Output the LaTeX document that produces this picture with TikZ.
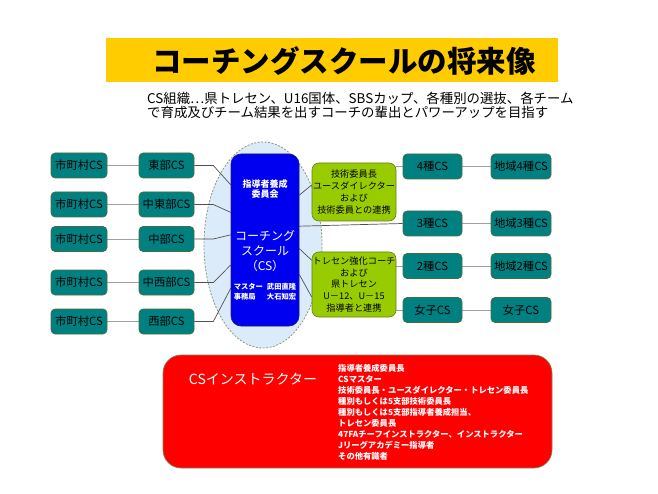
\documentclass[tikz,border=0pt]{standalone}
\usepackage{fontspec}
\setmainfont{Noto Sans CJK JP}
\usetikzlibrary{calc,backgrounds}
\definecolor{titleyellow}{HTML}{FFCC00}
\definecolor{tealfill}{HTML}{008080}
\definecolor{tealborder}{HTML}{4A6E3A}
\definecolor{greenfill}{HTML}{99CC00}
\definecolor{greenborder}{HTML}{5E7F1C}
\definecolor{bluefill}{HTML}{0000F0}
\definecolor{blueborder}{HTML}{1A1A70}
\definecolor{redfill}{HTML}{FF0000}
\definecolor{redborder}{HTML}{7A8A5A}
\definecolor{ellfill}{HTML}{DCEBFA}
\definecolor{ellborder}{HTML}{8A9A7A}
\definecolor{lightline}{HTML}{A0A0A0}
\definecolor{darkline}{HTML}{505050}
\begin{document}
\begin{tikzpicture}[x=1pt,y=-1pt,
  tealbox/.style={draw=tealborder, fill=tealfill, rounded corners=4pt, line width=0.6pt,
    minimum height=25pt, inner sep=0pt, text=black, font=\fontsize{11.3}{12}\selectfont},
  greenbox/.style={draw=greenborder, fill=greenfill, rounded corners=7pt, line width=0.6pt,
    minimum width=84pt, inner sep=0pt, align=center, text=black},
  lightconn/.style={draw=lightline, line width=0.9pt},
  darkconn/.style={draw=darkline, line width=0.7pt},
  whitetext/.style={text=white, inner sep=0pt, align=center}]
\useasboundingbox (0,0) rectangle (658,494);

% title
\node[fill=titleyellow, minimum width=452pt, minimum height=44pt, inner sep=0pt] (titlebar) at (332,60) {};
\node[inner sep=0pt, font=\bfseries\fontsize{29.5}{31}\selectfont] (title) at (344,61) {コーチングスクールの将来像};
\node[anchor=west, align=left, inner sep=0pt, font=\fontsize{13.4}{14.5}\selectfont] (sub) at (147,105.5)
  {CS組織…県トレセン、U16国体、SBSカップ、各種別の選抜、各チーム\\で育成及びチーム結果を出すコーチの輩出とパワーアップを目指す};

% left columns
\node[tealbox, minimum width=56pt] (m1) at (79,165.5) {市町村CS};
\node[tealbox, minimum width=56pt] (m2) at (79,204.5) {市町村CS};
\node[tealbox, minimum width=56pt] (m3) at (79,239) {市町村CS};
\node[tealbox, minimum width=56pt] (m4) at (79,282.5) {市町村CS};
\node[tealbox, minimum width=56pt] (m5) at (79,321.5) {市町村CS};
\node[tealbox, minimum width=55pt] (r1) at (166.5,165.5) {東部CS};
\node[tealbox, minimum width=55pt] (r2) at (166.5,204.5) {中東部CS};
\node[tealbox, minimum width=55pt] (r3) at (166.5,239) {中部CS};
\node[tealbox, minimum width=55pt] (r4) at (166.5,282.5) {中西部CS};
\node[tealbox, minimum width=55pt] (r5) at (166.5,321.5) {西部CS};

% central block
\node[draw=blueborder, fill=bluefill, rounded corners=10pt, line width=0.6pt,
  minimum width=68pt, minimum height=172pt, inner sep=0pt] (cs) at (265,240) {};
\node[whitetext, font=\bfseries\fontsize{9}{10.5}\selectfont] (csa) at (265,189) {指導者養成\\委員会};
\node[whitetext, font=\fontsize{12}{15}\selectfont] (csb) at (265,251) {コーチング\\スクール\\（CS）};
\node[whitetext, font=\bfseries\fontsize{7.3}{10}\selectfont] (csc) at (265,292.5)
  {\begin{tabular}{@{}l@{\hspace{4pt}}l@{}}マスター & 武田直隆\\ 事務局 & 大石知宏\end{tabular}};

% green boxes
\node[greenbox, minimum height=58pt, font=\fontsize{9.2}{12.3}\selectfont] (ga) at (354,192)
  {技術委員長\\ユースダイレクター\\および\\技術委員との連携};
\node[greenbox, minimum height=65pt, font=\fontsize{9.2}{11.8}\selectfont] (gb) at (354,284.5)
  {トレセン強化コーチ\\および\\県トレセン\\U－12、U－15\\指導者と連携};

% right columns
\node[tealbox, minimum width=59pt] (k4) at (432.5,166.5) {4種CS};
\node[tealbox, minimum width=59pt] (k3) at (432.5,223.5) {3種CS};
\node[tealbox, minimum width=59pt] (k2) at (432.5,266) {2種CS};
\node[tealbox, minimum width=59pt] (kw) at (432.5,310) {女子CS};
\node[tealbox, minimum width=60pt] (t4) at (521,166.5) {地域4種CS};
\node[tealbox, minimum width=60pt] (t3) at (521,223.5) {地域3種CS};
\node[tealbox, minimum width=60pt] (t2) at (521,266) {地域2種CS};
\node[tealbox, minimum width=60pt] (tw) at (521,310) {女子CS};

% instructor box
\node[draw=redborder, fill=redfill, rounded corners=18pt, line width=0.6pt,
  minimum width=389pt, minimum height=113pt, inner sep=0pt] (inst) at (357.5,411.5) {};
\node[whitetext, font=\fontsize{14}{16}\selectfont] (insttitle) at (253,379) {CSインストラクター};
\node[whitetext, anchor=north west, align=left, font=\bfseries\fontsize{8.3}{11}\selectfont] (instlist) at (338,364.5)
  {指導者養成委員長\\CSマスター\\技術委員長・ユースダイレクター・トレセン委員長\\種別もしくは5支部技術委員長\\種別もしくは5支部指導者養成担当、\\トレセン委員長\\47FAチーフインストラクター、インストラクター\\Jリーグアカデミー指導者\\その他有識者};

\begin{scope}[on background layer]
  \draw[fill=ellfill, draw=ellborder, line width=0.8pt, dash pattern=on 2pt off 1.5pt] (263,245) ellipse [x radius=59pt, y radius=103pt];
  % left connectors
  \foreach \i in {1,...,5} {\draw[lightconn] (m\i.east) -- (r\i.west);}
  \draw[darkconn] (r1.east) -- ++(19,0) -- ($(cs.north west)!0.18!(cs.south west)$);
  \draw[darkconn] (r2.east) -- ++(19,0) -- ($(cs.north west)!0.34!(cs.south west)$);
  \draw[darkconn] (r3.east) -- ++(19,0) -- ($(cs.north west)!0.47!(cs.south west)$);
  \draw[darkconn] (r4.east) -- ++(19,0) -- ($(cs.north west)!0.645!(cs.south west)$);
  \draw[darkconn] (r5.east) -- ++(19,0) -- ($(cs.north west)!0.78!(cs.south west)$);
  % centre to right
  \draw[darkconn] ($(cs.north east)!0.24!(cs.south east)$) -- ($(ga.north west)!0.38!(ga.south west)$);
  \draw[darkconn] ($(cs.north east)!0.42!(cs.south east)$) -- (k3.west);
  \draw[darkconn] ($(cs.north east)!0.55!(cs.south east)$) -- ($(gb.north west)!0.13!(gb.south west)$);
  \draw[darkconn] ($(cs.north east)!0.70!(cs.south east)$) -- ($(gb.north west)!0.69!(gb.south west)$);
  \draw[lightconn] (ga.east |- k4.west) -- (k4.west);
  \draw[lightconn] (gb.east |- k2.west) -- (k2.west);
  \draw[lightconn] (gb.east |- kw.west) -- (kw.west);
  \draw[lightconn] (k4.east) -- (t4.west);
  \draw[lightconn] (k3.east) -- (t3.west);
  \draw[lightconn] (k2.east) -- (t2.west);
  \draw[lightconn] (kw.east) -- (tw.west);
\end{scope}
\end{tikzpicture}
\end{document}
